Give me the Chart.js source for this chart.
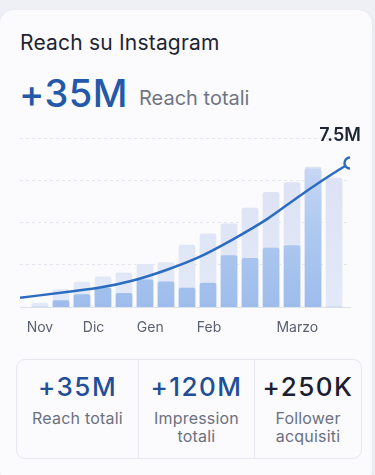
<!DOCTYPE html>
<html>
<head>
<meta charset="utf-8">
<script src="https://cdn.jsdelivr.net/npm/chart.js@4.4.1/dist/chart.umd.min.js"></script>
<style>
  body { margin: 0; background: #eef0f5; font-family: Inter, "Open Sans", sans-serif; }
  .card { position: absolute; left: 0; top: 10px; width: 372px; height: 475px; background: #fbfbfd; border-radius: 14px; box-shadow: 0 1px 4px rgba(30,40,80,0.06); }
  .title { position: absolute; left: 20px; top: 30px; font-size: 21px; font-weight: 400; color: #1f2433; letter-spacing: 0.2px; }
  .big { position: absolute; left: 19px; top: 70px; font-size: 38px; font-weight: 500; color: #2458a8; letter-spacing: 0.5px; }
  .sub { position: absolute; left: 139px; top: 86px; font-size: 20px; color: #6f7585; }
  #wrap { position: absolute; left: 0; top: 120px; width: 375px; height: 220px; }
  .stats { position: absolute; left: 16px; top: 359px; width: 344px; height: 98px; border: 1px solid #e6e8ef; border-radius: 9px; background: #fbfbfd; display: flex; }
  .col { flex: 1; text-align: center; padding-top: 12px; }
  .col + .col { border-left: 1px solid #e6e8ef; }
  .col:nth-child(1) { flex: 0 0 121px; }
  .col:nth-child(2) { flex: 0 0 115px; }
  .num { font-size: 26px; font-weight: 500; color: #214e98; line-height: 30px; letter-spacing: 1.5px; }
  .lbl { font-size: 16px; color: #6b7080; line-height: 18px; margin-top: 7px; letter-spacing: 0.2px; }
</style>
</head>
<body>
<div class="card"></div>
<div class="title">Reach su Instagram</div>
<div class="big">+35M</div>
<div class="sub">Reach totali</div>
<div id="wrap"><canvas id="myChart"></canvas></div>
<div class="stats">
  <div class="col"><div class="num">+35M</div><div class="lbl">Reach totali</div></div>
  <div class="col"><div class="num">+120M</div><div class="lbl">Impression<br>totali</div></div>
  <div class="col"><div class="num" style="color:#1b2030">+250K</div><div class="lbl">Follower<br>acquisiti</div></div>
</div>
<script>
// valori in milioni
const barPos = [0, 1, 2, 3, 4, 5, 6, 7, 8, 9, 10, 11, 12, 13, 14];
const barsBack = [0.21, 0.91, 1.30, 1.58, 1.79, 2.23, 2.32, 3.23, 3.81, 4.34, 5.16, 5.97, 6.48, 7.29, 6.71];
const barsFront = [0, 0.35, 0.65, 1.0, 0.72, 1.42, 1.32, 1.0, 1.26, 2.69, 2.54, 3.07, 3.21, 7.2, 0];

// curva del reach
const lineX = [-0.95, 1.27, 2.86, 4.43, 6.05, 7.62, 9.19, 10.81, 12.38, 13.95, 14.76];
const lineY = [0.49, 0.79, 1.02, 1.39, 1.95, 2.63, 3.53, 4.58, 5.80, 6.95, 7.5];

// etichette mesi
const tickPos = [0, 2.55, 5.25, 8.05, 12.25];
const tickLabels = ['Nov', 'Dic', 'Gen', 'Feb', 'Marzo'];

const endLabel = '7.5M';

const pts = (xs, ys) => xs.map((x, i) => ({ x: x, y: ys[i] }));

const ctx = document.getElementById('myChart').getContext('2d');

function frontGradient(context) {
  const area = context.chart.chartArea;
  if (!area) return '#a9c3ec';
  const g = context.chart.ctx.createLinearGradient(0, area.top, 0, area.bottom);
  g.addColorStop(0, 'rgba(212,222,246,1)');
  g.addColorStop(0.5, 'rgba(176,202,240,1)');
  g.addColorStop(1, 'rgba(158,189,236,1)');
  return g;
}

function backGradient(context) {
  const area = context.chart.chartArea;
  if (!area) return '#e2e7f6';
  const g = context.chart.ctx.createLinearGradient(0, area.top, 0, area.bottom);
  g.addColorStop(0, 'rgba(220,225,243,1)');
  g.addColorStop(1, 'rgba(226,233,248,1)');
  return g;
}

// scritta sopra l'ultimo punto
const endLabelPlugin = {
  id: 'endLabel',
  afterDatasetsDraw(chart) {
    const meta = chart.getDatasetMeta(0);
    const p = meta.data[meta.data.length - 1];
    const c = chart.ctx;
    c.save();
    c.font = '600 18px Inter, sans-serif';
    c.fillStyle = '#1d2433';
    c.textAlign = 'center';
    c.textBaseline = 'alphabetic';
    c.fillText(endLabel, p.x - 10, p.y - 22);
    c.restore();
  }
};

new Chart(ctx, {
  type: 'bar',
  data: {
    datasets: [
      {
        type: 'line',
        data: pts(lineX, lineY),
        borderColor: '#2c6cc0',
        borderWidth: 2.5,
        cubicInterpolationMode: 'monotone',
        fill: false,
        pointRadius: lineX.map((x, i) => i === lineX.length - 1 ? 5.5 : 0),
        pointBackgroundColor: '#ffffff',
        pointBorderColor: '#2c6cc0',
        pointBorderWidth: 2.5,
        order: 0
      },
      {
        data: pts(barPos, barsFront),
        backgroundColor: frontGradient,
        barThickness: 16,
        borderRadius: 2,
        grouped: false,
        order: 1
      },
      {
        data: pts(barPos, barsBack),
        backgroundColor: backGradient,
        barThickness: 16,
        borderRadius: 2,
        grouped: false,
        order: 2
      }
    ]
  },
  options: {
    responsive: true,
    maintainAspectRatio: false,
    animation: false,
    layout: { padding: { left: 20, right: 25, top: 18, bottom: 0 } },
    plugins: { legend: { display: false }, tooltip: { enabled: false } },
    scales: {
      x: {
        type: 'linear',
        offset: false,
        min: -0.95,
        max: 14.76,
        afterBuildTicks: axis => { axis.ticks = tickPos.map(v => ({ value: v })); },
        ticks: {
          autoSkip: false,
          maxRotation: 0,
          padding: 4,
          color: '#5b6070',
          font: { family: 'Inter', size: 14 },
          callback: (v, i) => tickLabels[i]
        },
        grid: { display: false },
        border: { display: true, color: '#dfe2ea', width: 1 }
      },
      y: {
        min: 0,
        max: 8.8,
        ticks: { display: false, stepSize: 2.2 },
        grid: { color: '#e4e6ee', drawTicks: false },
        border: { display: false, dash: [3, 3] }
      }
    }
  },
  plugins: [endLabelPlugin]
});
</script>
</body>
</html>
